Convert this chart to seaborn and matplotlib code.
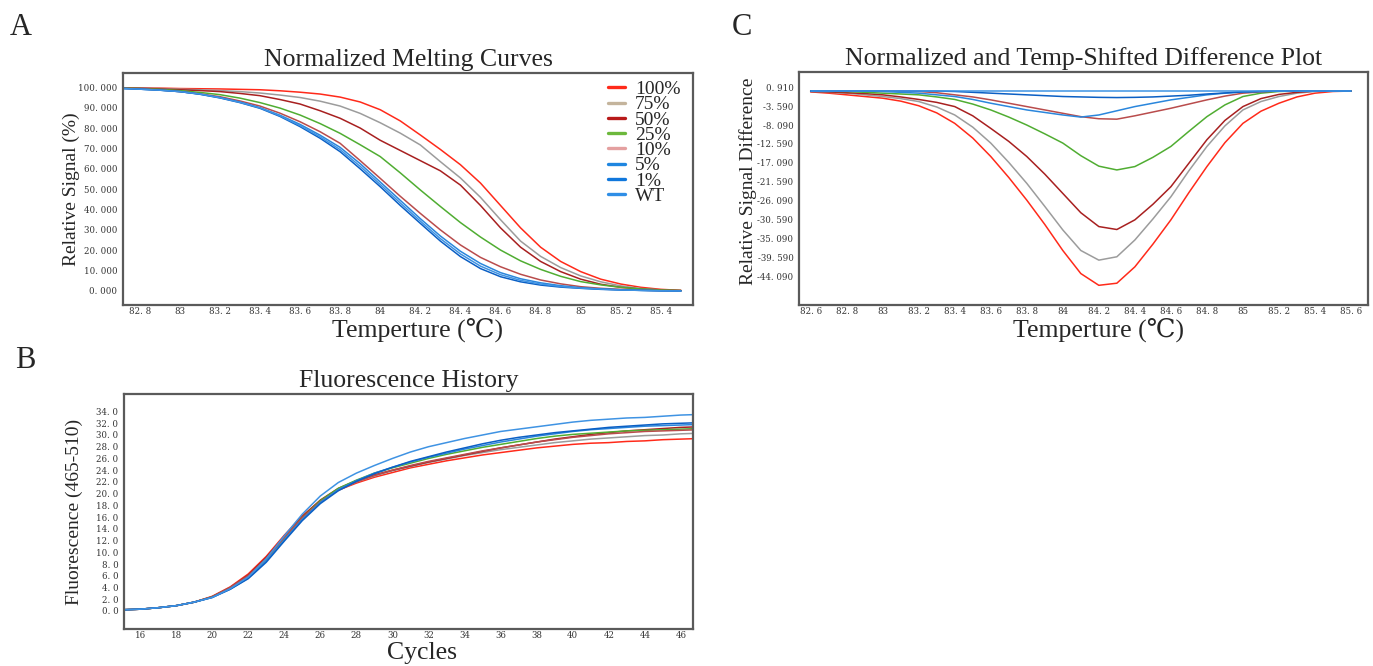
import numpy as np
import pandas as pd
import matplotlib
matplotlib.use("Agg")
import matplotlib.pyplot as plt
import seaborn as sns
from matplotlib.ticker import MultipleLocator

labels = ["100%", "75%", "50%", "25%", "10%", "5%", "1%", "WT"]
line_colors = ["#ff2a1a", "#9c9c9c", "#a82020", "#50ad32", "#b94c4c", "#2a86dc", "#0b5fc4", "#3f93e3"]
legend_colors = ["#ff2a1a", "#c4b49c", "#b81a1a", "#6cb83c", "#e4a0a0", "#1f86e0", "#1077dc", "#2f8ee6"]

# A: normalized melting curves
melt_temp = np.round(np.arange(82.7, 85.55, 0.1), 1)
melt_100 = [99.8, 99.7, 99.6, 99.4, 99.3, 99.2, 99.0, 98.8, 98.3, 97.6, 96.7, 95.2, 92.8, 89.0, 83.5, 76.6,
            69.5, 62.0, 53.0, 42.0, 31.0, 21.5, 14.5, 9.5, 5.8, 3.4, 1.8, 0.8, 0.3]
melt_75 = [99.7, 99.6, 99.4, 99.1, 98.8, 98.4, 97.9, 97.2, 96.2, 95.0, 93.2, 90.8, 87.2, 82.6, 77.5, 71.7,
           63.5, 55.5, 46.0, 35.0, 24.5, 17.0, 11.5, 7.4, 4.5, 2.5, 1.2, 0.5, 0.2]
melt_50 = [99.7, 99.5, 99.2, 98.8, 98.4, 97.9, 97.0, 95.9, 94.0, 91.8, 88.5, 84.8, 80.0, 74.0, 69.0, 64.0,
           59.0, 52.0, 42.0, 31.0, 21.5, 14.5, 9.5, 5.8, 3.3, 1.8, 0.9, 0.5, 0.2]
melt_25 = [99.7, 99.4, 99.0, 98.4, 97.5, 96.4, 94.7, 92.5, 89.8, 86.4, 82.2, 77.4, 71.8, 66.0, 58.0, 49.6,
           41.5, 33.6, 26.5, 20.1, 14.8, 10.6, 7.2, 4.6, 3.0, 1.8, 1.0, 0.5, 0.2]
melt_10 = [99.6, 99.3, 98.7, 97.9, 96.8, 95.4, 93.3, 90.8, 87.3, 83.1, 78.2, 72.5, 64.0, 55.3, 46.5, 38.1,
           30.0, 22.6, 16.5, 11.9, 8.2, 5.4, 3.5, 2.1, 1.3, 0.8, 0.4, 0.2, 0.1]
melt_5 = [99.5, 99.1, 98.6, 97.9, 96.7, 95.0, 92.8, 90.0, 86.3, 81.8, 76.5, 70.5, 62.5, 53.5, 44.5, 35.5,
          27.0, 19.5, 13.5, 9.0, 6.0, 4.0, 2.6, 1.6, 1.0, 0.6, 0.3, 0.1, 0.0]
melt_1 = [99.5, 99.1, 98.6, 97.9, 96.6, 94.8, 92.5, 89.7, 85.7, 80.7, 75.0, 68.4, 60.0, 51.2, 42.0, 33.2,
          24.5, 16.9, 11.0, 7.0, 4.5, 2.9, 1.9, 1.3, 0.8, 0.5, 0.3, 0.1, 0.0]
melt_wt = [99.5, 99.1, 98.6, 97.9, 96.7, 94.9, 92.6, 89.9, 86.0, 81.2, 75.7, 69.4, 61.2, 52.3, 43.2, 34.3,
           25.7, 18.2, 12.2, 8.0, 5.2, 3.4, 2.2, 1.4, 0.9, 0.5, 0.3, 0.1, 0.0]

# C: difference plot
diff_temp = np.round(np.arange(82.6, 85.65, 0.1), 1)
diff_100 = [-0.2, -0.5, -0.9, -1.3, -1.7, -2.4, -3.5, -5.2, -7.7, -11.2, -15.6, -20.6, -26.0, -31.8, -38.0,
            -43.5, -46.3, -45.8, -41.9, -36.5, -30.7, -24.2, -18.0, -12.3, -7.7, -4.8, -2.9, -1.4, -0.5, -0.1, 0.0]
diff_75 = [-0.1, -0.3, -0.5, -0.9, -1.3, -1.8, -2.5, -3.8, -5.7, -8.6, -12.4, -17.0, -22.0, -27.5, -33.1,
           -38.0, -40.3, -39.5, -35.5, -30.5, -25.2, -19.0, -13.2, -8.3, -4.5, -2.5, -1.3, -0.5, -0.1, 0.0, 0.0]
diff_50 = [-0.1, -0.2, -0.4, -0.6, -0.9, -1.4, -2.0, -2.7, -3.7, -5.9, -8.9, -12.0, -15.6, -19.8, -24.4,
           -29.0, -32.3, -33.0, -30.7, -27.0, -22.8, -17.2, -11.6, -7.0, -3.7, -1.8, -0.8, -0.3, 0.0, 0.0, 0.0]
diff_25 = [0.0, -0.05, -0.1, -0.3, -0.5, -0.7, -0.9, -1.4, -2.0, -3.1, -4.5, -6.2, -8.1, -10.2, -12.4,
           -15.4, -17.9, -18.8, -18.0, -15.8, -13.2, -9.6, -6.1, -3.3, -1.3, -0.5, -0.1, 0.0, 0.0, 0.0, 0.0]
diff_10 = [0.0, 0.0, 0.0, 0.0, 0.0, -0.05, -0.1, -0.4, -0.9, -1.4, -2.1, -2.9, -3.7, -4.5, -5.3,
           -6.1, -6.6, -6.7, -5.9, -5.0, -4.1, -3.1, -2.1, -1.2, -0.5, -0.2, 0.0, 0.0, 0.0, 0.0, 0.0]
diff_5 = [0.0, 0.0, 0.0, 0.0, -0.1, -0.3, -0.5, -0.9, -1.3, -2.0, -2.9, -3.7, -4.5, -5.1, -5.7,
          -6.2, -5.7, -4.7, -3.7, -2.9, -2.1, -1.5, -0.9, -0.5, -0.2, -0.1, 0.0, 0.0, 0.0, 0.0, 0.0]
diff_1 = [0.0, 0.0, 0.0, 0.0, 0.0, 0.0, 0.0, 0.0, -0.1, -0.3, -0.5, -0.7, -0.9, -1.1, -1.3,
          -1.4, -1.5, -1.55, -1.5, -1.4, -1.2, -1.0, -0.7, -0.45, -0.2, -0.1, 0.0, 0.0, 0.0, 0.0, 0.0]
diff_wt = [0.0] * len(diff_temp)

# B: fluorescence history
cycles = np.arange(15, 48)
fluor_100 = [0.2, 0.3, 0.55, 0.9, 1.5, 2.5, 4.1, 6.3, 9.3, 12.9, 16.2, 18.8, 20.6, 21.8, 22.8, 23.6, 24.4,
             25.0, 25.6, 26.1, 26.6, 27.0, 27.4, 27.8, 28.1, 28.4, 28.6, 28.7, 28.9, 29.0, 29.2, 29.3, 29.4]
fluor_75 = [0.2, 0.3, 0.55, 0.9, 1.5, 2.4, 4.0, 6.0, 9.0, 12.6, 16.0, 18.7, 20.6, 22.0, 23.0, 23.9, 24.6,
            25.3, 25.9, 26.5, 27.0, 27.5, 27.9, 28.3, 28.7, 29.0, 29.3, 29.5, 29.7, 29.9, 30.0, 30.2, 30.3]
fluor_50 = [0.2, 0.3, 0.55, 0.9, 1.5, 2.4, 4.0, 6.1, 9.1, 12.7, 16.1, 18.9, 20.9, 22.2, 23.2, 24.0, 24.7,
            25.4, 26.0, 26.6, 27.2, 27.8, 28.3, 28.8, 29.3, 29.7, 30.1, 30.4, 30.7, 30.9, 31.1, 31.3, 31.4]
fluor_25 = [0.2, 0.3, 0.55, 0.9, 1.5, 2.4, 3.9, 5.9, 8.8, 12.4, 15.9, 18.8, 20.9, 22.3, 23.5, 24.4, 25.2,
            26.0, 26.7, 27.3, 27.9, 28.4, 28.9, 29.4, 29.8, 30.1, 30.3, 30.5, 30.7, 30.8, 30.9, 31.0, 31.1]
fluor_10 = [0.2, 0.3, 0.55, 0.9, 1.5, 2.4, 4.0, 6.0, 8.9, 12.5, 15.9, 18.6, 20.6, 22.0, 23.1, 24.0, 24.8,
            25.5, 26.1, 26.7, 27.3, 27.8, 28.3, 28.8, 29.2, 29.6, 29.9, 30.2, 30.4, 30.6, 30.7, 30.8, 30.9]
fluor_5 = [0.2, 0.3, 0.55, 0.9, 1.5, 2.3, 3.7, 5.6, 8.5, 12.1, 15.6, 18.5, 20.7, 22.2, 23.5, 24.5, 25.4,
           26.2, 26.9, 27.6, 28.2, 28.8, 29.3, 29.8, 30.2, 30.6, 30.9, 31.1, 31.3, 31.5, 31.6, 31.7, 31.8]
fluor_1 = [0.2, 0.3, 0.55, 0.9, 1.5, 2.3, 3.7, 5.5, 8.3, 11.9, 15.4, 18.3, 20.5, 22.1, 23.4, 24.5, 25.5,
           26.3, 27.1, 27.8, 28.5, 29.1, 29.6, 30.0, 30.4, 30.7, 31.0, 31.3, 31.5, 31.7, 31.9, 32.0, 32.1]
fluor_wt = [0.2, 0.3, 0.55, 0.9, 1.5, 2.3, 3.8, 5.8, 8.9, 12.8, 16.5, 19.6, 21.9, 23.5, 24.8, 26.0, 27.1,
            28.0, 28.7, 29.4, 30.0, 30.6, 31.0, 31.4, 31.8, 32.2, 32.5, 32.7, 32.9, 33.0, 33.2, 33.4, 33.5]


def long_frame(x, series):
    parts = []
    for lab, vals in zip(labels, series):
        parts.append(pd.DataFrame({"x": x, "y": vals, "sample": lab}))
    return pd.concat(parts, ignore_index=True)


df_melt = long_frame(melt_temp, [melt_100, melt_75, melt_50, melt_25, melt_10, melt_5, melt_1, melt_wt])
df_diff = long_frame(diff_temp, [diff_100, diff_75, diff_50, diff_25, diff_10, diff_5, diff_1, diff_wt])
df_fluor = long_frame(cycles, [fluor_100, fluor_75, fluor_50, fluor_25, fluor_10, fluor_5, fluor_1, fluor_wt])

sns.set_style("white")
plt.rcParams["font.family"] = ["Liberation Serif", "DejaVu Serif"]
palette = dict(zip(labels, line_colors))

fig = plt.figure(figsize=(13.73, 6.66), dpi=100)
axA = fig.add_axes([0.0896, 0.542, 0.4151, 0.3483])
axC = fig.add_axes([0.5819, 0.542, 0.4144, 0.350])
axB = fig.add_axes([0.0903, 0.0556, 0.4144, 0.3529])

TICK_FONT = {"family": "DejaVu Serif", "size": 6.2}


def spaced(txt):
    # the instrument software prints "82. 8" style labels
    return txt.replace(".", ". ")


def style_axes(ax):
    for s in ax.spines.values():
        s.set_color("#5a5a5a")
        s.set_linewidth(1.6)
    ax.tick_params(axis="y", which="major", direction="out", length=3, width=0.8,
                   colors="#444444", labelcolor="#333333", pad=1)
    ax.tick_params(axis="y", which="minor", direction="out", length=1.8, width=0.6, colors="#666666")
    ax.tick_params(axis="x", which="major", direction="in", length=4, width=0.7,
                   colors="#c8c8c8", labelcolor="#333333", pad=1.5)
    for t in ax.get_xticklabels() + ax.get_yticklabels():
        t.set_fontfamily(TICK_FONT["family"])
        t.set_fontsize(TICK_FONT["size"])
    ax.set_xlabel("")
    ax.set_ylabel("")


def tick_text(v):
    return spaced(f"{v:.1f}".rstrip("0").rstrip("."))


# Panel A
sns.lineplot(data=df_melt, x="x", y="y", hue="sample", hue_order=labels, palette=palette,
             estimator=None, sort=False, linewidth=1.1, ax=axA)
axA.set_xlim(82.717, 85.56)
axA.set_ylim(-6.9, 107)
a_xt = np.round(np.arange(82.8, 85.45, 0.2), 1)
axA.set_xticks(a_xt)
axA.set_xticklabels([tick_text(v) for v in a_xt])
a_yt = list(range(0, 101, 10))
axA.set_yticks(a_yt)
axA.set_yticklabels([spaced(f"{v:.3f}") for v in a_yt])
axA.yaxis.set_minor_locator(MultipleLocator(2))
style_axes(axA)
axA.set_title("Normalized Melting Curves", fontsize=18.5, pad=5)
axA.set_ylabel("Relative Signal (%)", fontsize=14)
axA.yaxis.set_label_coords(-0.075, 0.5)
axA.set_xlabel("Temperture (\u2103)", fontsize=18.5)
axA.xaxis.set_label_coords(0.517, -0.054)
handles, labs = axA.get_legend_handles_labels()
for h, c in zip(handles, legend_colors):
    h.set_linewidth(2.4)
    h.set_color(c)
axA.legend(handles, labs, loc="upper right", frameon=False, fontsize=14, handlelength=0.9,
           labelspacing=-0.12, handletextpad=0.5, borderaxespad=0.1, bbox_to_anchor=(0.995, 1.01))

# Panel C
sns.lineplot(data=df_diff, x="x", y="y", hue="sample", hue_order=labels, palette=palette,
             estimator=None, sort=False, linewidth=1.1, legend=False, ax=axC)
axC.set_xlim(82.535, 85.694)
axC.set_ylim(-51.0, 4.56)
c_xt = np.round(np.arange(82.6, 85.65, 0.2), 1)
axC.set_xticks(c_xt)
axC.set_xticklabels([tick_text(v) for v in c_xt])
c_yt = [0.91, -3.59, -8.09, -12.59, -17.09, -21.59, -26.09, -30.59, -35.09, -39.59, -44.09]
axC.set_yticks(c_yt)
axC.set_yticklabels([spaced(f"{v:.3f}") for v in c_yt])
axC.yaxis.set_minor_locator(MultipleLocator(0.9))
style_axes(axC)
axC.set_title("Normalized and Temp-Shifted Difference Plot", fontsize=18.5, pad=5)
axC.set_ylabel("Relative Signal Difference", fontsize=14)
axC.yaxis.set_label_coords(-0.074, 0.53)
axC.set_xlabel("Temperture (\u2103)", fontsize=18.5)
axC.xaxis.set_label_coords(0.527, -0.054)

# Panel B
sns.lineplot(data=df_fluor, x="x", y="y", hue="sample", hue_order=labels, palette=palette,
             estimator=None, sort=False, linewidth=1.1, legend=False, ax=axB)
axB.set_xlim(15.11, 46.67)
axB.set_ylim(-3.07, 37.0)
axB.set_xticks(list(range(16, 47, 2)))
b_yt = list(range(0, 35, 2))
axB.set_yticks(b_yt)
axB.set_yticklabels([spaced(f"{v:.1f}") for v in b_yt])
axB.yaxis.set_minor_locator(MultipleLocator(0.5))
style_axes(axB)
axB.set_title("Fluorescence History", fontsize=18.5, pad=5)
axB.set_ylabel("Fluorescence (465-510)", fontsize=14)
axB.yaxis.set_label_coords(-0.072, 0.5)
axB.set_xlabel("Cycles", fontsize=18.5)
axB.xaxis.set_label_coords(0.524, -0.055)

# panel letters
fig.text(0.0073, 0.958, "A", fontsize=22, va="center")
fig.text(0.0107, 0.459, "B", fontsize=22, va="center")
fig.text(0.533, 0.958, "C", fontsize=22, va="center")

fig.savefig("out.png", dpi=100)
